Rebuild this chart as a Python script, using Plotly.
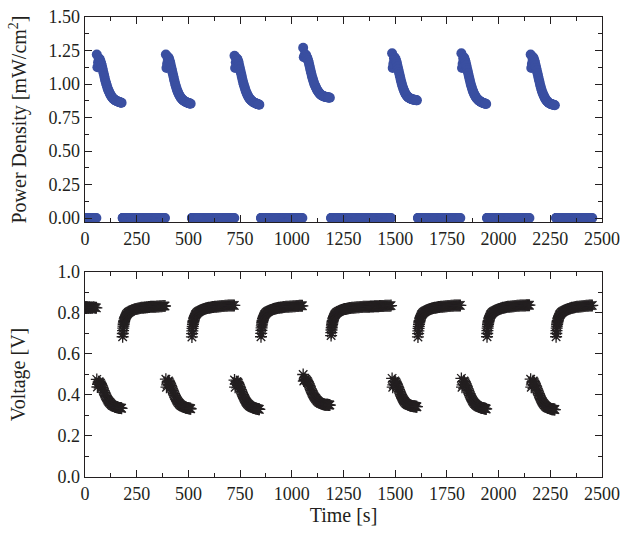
import plotly.graph_objects as go

# ---------------- data ----------------
# Discharge (load on) segments, sampled every on_step_s seconds from on_start
on_start = [57, 391, 723, 1055, 1485, 1820, 2155]
on_step_s = 3
power_on = [
    [1.22, 1.125, 1.16, 1.19, 1.19, 1.18, 1.17, 1.155, 1.14, 1.12, 1.10, 1.08, 1.06, 1.04, 1.02, 1.005, 0.99, 0.975, 0.96, 0.95,
     0.94, 0.93, 0.92, 0.912, 0.905, 0.899, 0.893, 0.889, 0.885, 0.881, 0.878, 0.875, 0.873, 0.871, 0.869, 0.867, 0.865, 0.864, 0.862, 0.861, 0.86],
    [1.22, 1.12, 1.15, 1.19, 1.20, 1.19, 1.175, 1.16, 1.14, 1.12, 1.10, 1.08, 1.06, 1.04, 1.02, 1.0, 0.985, 0.97, 0.955, 0.944,
     0.933, 0.923, 0.914, 0.906, 0.899, 0.893, 0.888, 0.883, 0.879, 0.875, 0.872, 0.869, 0.866, 0.864, 0.862, 0.860, 0.858, 0.857, 0.855, 0.854, 0.853],
    [1.21, 1.12, 1.16, 1.19, 1.19, 1.18, 1.17, 1.15, 1.13, 1.11, 1.09, 1.07, 1.05, 1.03, 1.01, 0.995, 0.98, 0.965, 0.95, 0.938,
     0.927, 0.917, 0.908, 0.90, 0.893, 0.887, 0.882, 0.877, 0.873, 0.869, 0.866, 0.863, 0.86, 0.858, 0.856, 0.854, 0.852, 0.85, 0.849, 0.847, 0.846],
    [1.27, 1.20, 1.21, 1.22, 1.22, 1.21, 1.20, 1.19, 1.175, 1.16, 1.14, 1.12, 1.10, 1.08, 1.06, 1.045, 1.03, 1.015, 1.0, 0.99,
     0.98, 0.97, 0.96, 0.952, 0.945, 0.938, 0.932, 0.927, 0.922, 0.918, 0.915, 0.912, 0.91, 0.908, 0.906, 0.905, 0.904, 0.903, 0.902, 0.901,
     0.90, 0.90, 0.899, 0.898],
    [1.23, 1.12, 1.15, 1.19, 1.20, 1.19, 1.18, 1.165, 1.15, 1.13, 1.11, 1.09, 1.07, 1.05, 1.03, 1.012, 0.995, 0.98, 0.966, 0.953,
     0.942, 0.932, 0.924, 0.917, 0.911, 0.906, 0.902, 0.898, 0.895, 0.892, 0.89, 0.888, 0.886, 0.885, 0.884, 0.883, 0.882, 0.881, 0.88, 0.879, 0.878],
    [1.23, 1.12, 1.15, 1.19, 1.20, 1.19, 1.175, 1.16, 1.14, 1.12, 1.10, 1.08, 1.06, 1.04, 1.02, 1.0, 0.985, 0.97, 0.955, 0.943,
     0.932, 0.922, 0.913, 0.905, 0.898, 0.892, 0.887, 0.882, 0.878, 0.874, 0.871, 0.868, 0.865, 0.863, 0.861, 0.859, 0.857, 0.855, 0.854, 0.852, 0.851],
    [1.22, 1.12, 1.15, 1.19, 1.20, 1.19, 1.175, 1.16, 1.14, 1.12, 1.10, 1.08, 1.06, 1.04, 1.02, 1.0, 0.982, 0.965, 0.95, 0.937,
     0.925, 0.914, 0.904, 0.895, 0.887, 0.88, 0.874, 0.869, 0.864, 0.86, 0.857, 0.854, 0.852, 0.85, 0.848, 0.847, 0.846, 0.845, 0.843, 0.842],
]
voltage_on = [
    [0.476, 0.439, 0.452, 0.464, 0.464, 0.460, 0.456, 0.450, 0.444, 0.437, 0.429, 0.421, 0.413, 0.405, 0.398, 0.392, 0.386, 0.380, 0.374, 0.370,
     0.366, 0.363, 0.359, 0.356, 0.353, 0.350, 0.348, 0.347, 0.345, 0.343, 0.342, 0.341, 0.340, 0.340, 0.339, 0.338, 0.337, 0.337, 0.336, 0.336, 0.335],
    [0.477, 0.438, 0.449, 0.465, 0.469, 0.465, 0.459, 0.453, 0.445, 0.438, 0.430, 0.422, 0.414, 0.406, 0.398, 0.391, 0.385, 0.379, 0.373, 0.369,
     0.364, 0.361, 0.357, 0.354, 0.351, 0.349, 0.347, 0.345, 0.343, 0.342, 0.341, 0.339, 0.338, 0.338, 0.337, 0.336, 0.335, 0.335, 0.334, 0.334, 0.333],
    [0.473, 0.438, 0.453, 0.465, 0.465, 0.461, 0.457, 0.449, 0.441, 0.434, 0.426, 0.418, 0.410, 0.402, 0.395, 0.389, 0.383, 0.377, 0.371, 0.366,
     0.362, 0.358, 0.355, 0.352, 0.349, 0.346, 0.345, 0.343, 0.341, 0.339, 0.338, 0.337, 0.336, 0.335, 0.334, 0.334, 0.333, 0.332, 0.332, 0.331, 0.330],
    [0.500, 0.468, 0.472, 0.476, 0.476, 0.472, 0.468, 0.465, 0.459, 0.453, 0.445, 0.438, 0.430, 0.422, 0.414, 0.408, 0.402, 0.396, 0.391, 0.387,
     0.383, 0.379, 0.375, 0.372, 0.369, 0.366, 0.364, 0.362, 0.360, 0.359, 0.357, 0.356, 0.355, 0.355, 0.354, 0.353, 0.353, 0.353, 0.352, 0.352,
     0.352, 0.351, 0.351, 0.351],
    [0.481, 0.438, 0.449, 0.465, 0.469, 0.465, 0.461, 0.455, 0.449, 0.441, 0.434, 0.426, 0.418, 0.410, 0.402, 0.395, 0.389, 0.383, 0.377, 0.372,
     0.368, 0.364, 0.361, 0.358, 0.356, 0.354, 0.352, 0.351, 0.350, 0.348, 0.348, 0.347, 0.346, 0.346, 0.345, 0.345, 0.345, 0.344, 0.344, 0.343, 0.343],
    [0.481, 0.438, 0.449, 0.465, 0.469, 0.465, 0.459, 0.453, 0.445, 0.438, 0.430, 0.422, 0.414, 0.406, 0.398, 0.391, 0.385, 0.379, 0.373, 0.368,
     0.364, 0.360, 0.357, 0.354, 0.351, 0.348, 0.346, 0.345, 0.343, 0.341, 0.340, 0.339, 0.338, 0.337, 0.336, 0.336, 0.335, 0.334, 0.334, 0.333, 0.332],
    [0.477, 0.438, 0.449, 0.465, 0.469, 0.465, 0.459, 0.453, 0.445, 0.438, 0.430, 0.422, 0.414, 0.406, 0.398, 0.391, 0.384, 0.377, 0.371, 0.366,
     0.361, 0.357, 0.353, 0.350, 0.346, 0.344, 0.341, 0.339, 0.337, 0.336, 0.335, 0.334, 0.333, 0.332, 0.331, 0.331, 0.330, 0.330, 0.329, 0.329],
]

# Rest (open-circuit) segments: power density is zero; voltage sampled at off_offsets after off_start
power_off_level = 0.0
off_start = [0, 182, 517, 851, 1190, 1610, 1944, 2278]
off_offsets = [0, 1, 2, 3, 4, 5, 6, 7, 8, 10, 12, 14, 16, 18, 20, 23, 26, 29, 32, 36, 40,
               45, 50, 55, 60, 65, 70, 75, 80, 85, 90, 95, 100, 105, 110, 115, 120, 125, 130, 135, 140,
               145, 150, 155, 160, 165, 170, 175, 180, 185, 190, 195, 200, 205, 210, 215, 220, 225, 230,
               235, 240, 245, 250, 255, 260, 265, 270, 275, 280, 285, 290, 295]
voltage_off = [
    [0.826, 0.827, 0.825, 0.826, 0.828, 0.826, 0.825, 0.827, 0.826, 0.828, 0.827, 0.826, 0.825, 0.827, 0.826, 0.828,
     0.826, 0.825, 0.827, 0.826, 0.828, 0.827, 0.826, 0.825],
    [0.684, 0.700, 0.714, 0.726, 0.736, 0.745, 0.752, 0.758, 0.763, 0.771, 0.777, 0.782, 0.786, 0.790, 0.793, 0.797, 0.800, 0.803, 0.805, 0.808,
     0.810, 0.813, 0.815, 0.817, 0.819, 0.820, 0.821, 0.822, 0.823, 0.824, 0.825, 0.825, 0.826, 0.827, 0.827, 0.828, 0.828, 0.829, 0.829, 0.830,
     0.830, 0.830, 0.831, 0.831, 0.831, 0.832, 0.832, 0.832, 0.833, 0.833, 0.833, 0.834, 0.834, 0.834],
    [0.683, 0.699, 0.713, 0.725, 0.735, 0.744, 0.752, 0.758, 0.763, 0.771, 0.777, 0.782, 0.787, 0.791, 0.794, 0.798, 0.801, 0.804, 0.806, 0.809,
     0.811, 0.814, 0.816, 0.818, 0.820, 0.822, 0.823, 0.824, 0.825, 0.826, 0.827, 0.828, 0.829, 0.829, 0.830, 0.831, 0.831, 0.832, 0.832, 0.833,
     0.833, 0.834, 0.834, 0.834, 0.835, 0.835, 0.835, 0.836, 0.836, 0.836, 0.837, 0.837, 0.837, 0.837],
    [0.684, 0.701, 0.715, 0.727, 0.737, 0.746, 0.753, 0.759, 0.764, 0.772, 0.778, 0.783, 0.787, 0.791, 0.794, 0.798, 0.801, 0.804, 0.806, 0.809,
     0.811, 0.813, 0.815, 0.817, 0.819, 0.821, 0.822, 0.823, 0.824, 0.825, 0.826, 0.827, 0.827, 0.828, 0.829, 0.829, 0.830, 0.830, 0.831, 0.831,
     0.832, 0.832, 0.832, 0.833, 0.833, 0.833, 0.834, 0.834, 0.834, 0.835, 0.835, 0.835, 0.835],
    [0.690, 0.704, 0.717, 0.728, 0.737, 0.745, 0.752, 0.758, 0.763, 0.771, 0.777, 0.782, 0.786, 0.790, 0.793, 0.797, 0.800, 0.802, 0.804, 0.807,
     0.809, 0.812, 0.814, 0.816, 0.818, 0.819, 0.820, 0.821, 0.822, 0.823, 0.824, 0.824, 0.825, 0.826, 0.826, 0.827, 0.827, 0.828, 0.828, 0.828,
     0.829, 0.829, 0.829, 0.830, 0.830, 0.830, 0.831, 0.831, 0.831, 0.831, 0.832, 0.832, 0.832, 0.832, 0.833, 0.833, 0.833, 0.833, 0.833, 0.834,
     0.834, 0.834, 0.834, 0.834, 0.835, 0.835, 0.835, 0.835, 0.835, 0.835, 0.836],
    [0.683, 0.699, 0.713, 0.725, 0.735, 0.744, 0.752, 0.758, 0.763, 0.771, 0.777, 0.782, 0.787, 0.791, 0.794, 0.798, 0.801, 0.804, 0.806, 0.809,
     0.811, 0.814, 0.816, 0.818, 0.820, 0.822, 0.823, 0.824, 0.825, 0.826, 0.827, 0.828, 0.829, 0.829, 0.830, 0.831, 0.831, 0.832, 0.832, 0.833,
     0.833, 0.834, 0.834, 0.834, 0.835, 0.835, 0.835, 0.836, 0.836, 0.836, 0.837, 0.837, 0.837, 0.837],
    [0.684, 0.700, 0.714, 0.726, 0.736, 0.745, 0.752, 0.758, 0.763, 0.771, 0.777, 0.782, 0.787, 0.791, 0.794, 0.798, 0.801, 0.804, 0.806, 0.809,
     0.811, 0.814, 0.816, 0.818, 0.820, 0.822, 0.823, 0.825, 0.826, 0.827, 0.828, 0.829, 0.830, 0.830, 0.831, 0.832, 0.832, 0.833, 0.833, 0.834,
     0.834, 0.835, 0.835, 0.835, 0.836, 0.836, 0.836, 0.837, 0.837, 0.837, 0.838, 0.838, 0.838, 0.838],
    [0.684, 0.700, 0.714, 0.726, 0.736, 0.745, 0.752, 0.758, 0.763, 0.771, 0.777, 0.782, 0.787, 0.791, 0.794, 0.798, 0.801, 0.804, 0.806, 0.809,
     0.811, 0.814, 0.816, 0.818, 0.820, 0.822, 0.823, 0.825, 0.826, 0.827, 0.828, 0.829, 0.830, 0.830, 0.831, 0.832, 0.832, 0.833, 0.833, 0.834,
     0.834, 0.835, 0.835, 0.835, 0.836, 0.836, 0.836, 0.837],
]

x_ticks = [0, 250, 500, 750, 1000, 1250, 1500, 1750, 2000, 2250, 2500]

# ---------------- assemble chronologically ----------------
t_all, p_all, v_all = [], [], []
for i in range(len(off_start)):
    for off, v in zip(off_offsets, voltage_off[i]):
        t_all.append(off_start[i] + off); p_all.append(power_off_level); v_all.append(v)
    if i < len(on_start):
        for k, (p, v) in enumerate(zip(power_on[i], voltage_on[i])):
            t_all.append(on_start[i] + k * on_step_s); p_all.append(p); v_all.append(v)

INK = '#231f20'
BLUE = '#3a4fa1'
FONT = 'Liberation Serif'
FS = 18
TFS = 20

fig = go.Figure()
fig.add_trace(go.Scatter(
    x=t_all, y=p_all, mode='markers', xaxis='x', yaxis='y',
    marker=dict(symbol='circle', size=10, color=BLUE, line=dict(width=0)),
    showlegend=False, hoverinfo='skip'))
fig.add_trace(go.Scatter(
    x=t_all, y=v_all, mode='markers', xaxis='x2', yaxis='y2',
    marker=dict(symbol='asterisk-open', size=10, color=INK, line=dict(width=1.3, color=INK)),
    showlegend=False, hoverinfo='skip'))

def axis(**kw):
    d = dict(showline=True, linecolor=INK, linewidth=1.3, mirror='allticks',
             ticks='inside', ticklen=7, tickwidth=1, tickcolor=INK,
             showgrid=False, zeroline=False, automargin=False,
             tickfont=dict(family=FONT, size=FS, color=INK))
    d.update(kw)
    return d

minor_x = dict(ticks='inside', ticklen=4, tickcolor=INK, dtick=125, showgrid=False)

fig.update_layout(
    width=624, height=537,
    margin=dict(l=85, r=22, t=17, b=60),
    paper_bgcolor='white', plot_bgcolor='white',
    font=dict(family=FONT, size=FS, color=INK),
    xaxis=axis(domain=[0, 1], anchor='y', range=[0, 2500], tickmode='array',
               tickvals=x_ticks, minor=minor_x),
    yaxis=axis(domain=[0.5543, 1], anchor='x', range=[-0.03, 1.5], tick0=0, dtick=0.25,
               tickformat='.2f',
               minor=dict(ticks='inside', ticklen=4, tickcolor=INK, dtick=0.125, showgrid=False),
               title=dict(text='Power Density [mW/cm<sup>2</sup>]', font=dict(family=FONT, size=TFS, color=INK), standoff=16)),
    xaxis2=axis(domain=[0, 1], anchor='y2', range=[0, 2500], tickmode='array',
                tickvals=x_ticks, minor=minor_x,
                title=dict(text='Time [s]', font=dict(family=FONT, size=TFS, color=INK), standoff=2)),
    yaxis2=axis(domain=[0, 0.4457], anchor='x2', range=[0, 1.0], tick0=0, dtick=0.2,
                tickformat='.1f',
                minor=dict(ticks='inside', ticklen=4, tickcolor=INK, dtick=0.1, showgrid=False),
                title=dict(text='Voltage [V]', font=dict(family=FONT, size=TFS, color=INK), standoff=26)),
)

fig.write_html('out.html', config={'displayModeBar': False, 'staticPlot': True},
               post_script="document.body.style.margin='0px';document.body.style.overflow='hidden';")
